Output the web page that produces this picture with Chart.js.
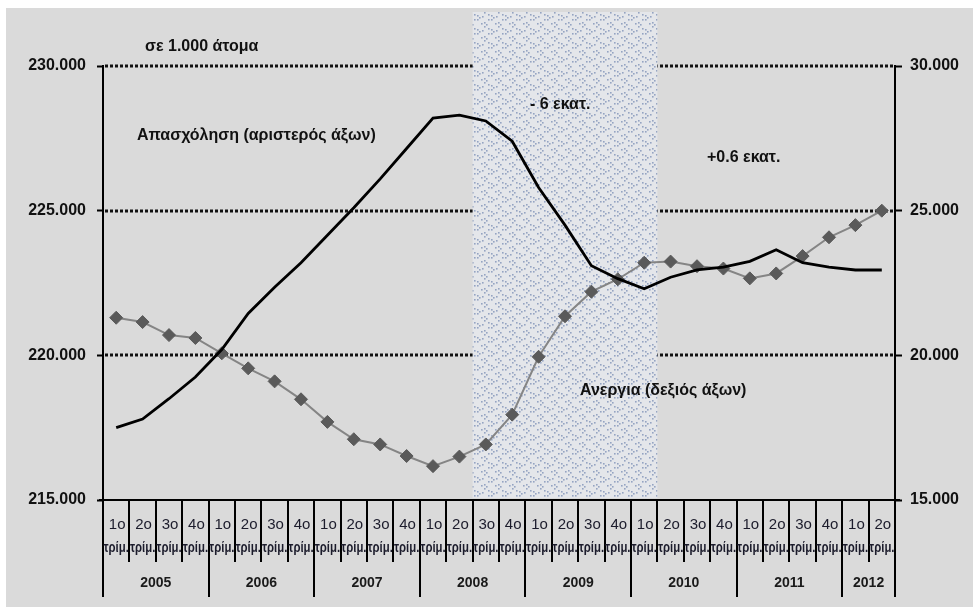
<!DOCTYPE html>
<html>
<head>
<meta charset="utf-8">
<script src="https://cdn.jsdelivr.net/npm/chart.js@4.4.1/dist/chart.umd.min.js"></script>
<style>
  html, body { margin: 0; padding: 0; background: #ffffff; }
  #wrap { width: 973px; height: 607px; position: relative; }
</style>
</head>
<body>
<div id="wrap"><canvas id="c" width="973" height="607"></canvas></div>
<script>
// Quarterly employment (left axis) and unemployment (right axis), in thousands of persons
const yearLabels = ['2005', '2006', '2007', '2008', '2009', '2010', '2011', '2012'];
const quartersPerYear = [4, 4, 4, 4, 4, 4, 4, 2];
const quarterNames = ['1ο', '2ο', '3ο', '4ο'];
const quarterSuffix = 'τρίμ.';

const employment = [
  217500, 217800, 218500, 219250,
  220200, 221450, 222350, 223200,
  224150, 225100, 226100, 227150,
  228200, 228300, 228100, 227400,
  225800, 224500, 223100, 222650,
  222300, 222700, 222950, 223050,
  223250, 223650, 223200, 223050,
  222950, 222950
];
const unemployment = [
  21300, 21150, 20700, 20600,
  20070, 19550, 19100, 18480,
  17700, 17100, 16920, 16520,
  16170, 16500, 16920, 17950,
  19950, 21350, 22200, 22630,
  23200, 23240, 23080, 23000,
  22660, 22830, 23430, 24080,
  24500, 25000
];

const leftTicks = [215000, 220000, 225000, 230000];
const rightTicks = [15000, 20000, 25000, 30000];
// recession band: 2008 3ο τρίμ. through 2010 1ο τρίμ. (category indices)
const bandStart = 14;
const bandEnd = 20;

const annotations = [
  { text: 'σε 1.000 άτομα', x: 145, y: 47 },
  { text: 'Απασχόληση (αριστερός άξων)', x: 137, y: 136 },
  { text: '- 6 εκατ.', x: 530, y: 105 },
  { text: '+0.6 εκατ.', x: 707, y: 158 },
  { text: 'Ανεργια (δεξιός άξων)', x: 580, y: 391 }
];

// category labels built from years and quarters
const categories = [];
yearLabels.forEach((y, yi) => {
  for (let q = 0; q < quartersPerYear[yi]; q++) categories.push(quarterNames[q] + ' ' + quarterSuffix + ' ' + y);
});

const fmt = v => v.toLocaleString('de-DE');
const FONT = '"Liberation Sans", Arial, sans-serif';

// dotted chevron texture for the shaded band
function makePattern(ctx) {
  const t = document.createElement('canvas');
  t.width = 14; t.height = 14;
  const g = t.getContext('2d');
  g.fillStyle = '#e4e6ea';
  g.fillRect(0, 0, 14, 14);
  g.fillStyle = '#95a4c2';
  const dots = [[1,1],[3,3],[1,5],[8,8],[10,10],[8,12],[6,2],[12,5],[5,9],[12,0]];
  dots.forEach(([x, y]) => g.fillRect(x, y, 1.6, 1.6));
  return ctx.createPattern(t, 'repeat');
}

const backdrop = {
  id: 'backdrop',
  beforeDraw(chart) {
    const ctx = chart.ctx;
    ctx.save();
    ctx.fillStyle = '#ffffff';
    ctx.fillRect(0, 0, chart.width, chart.height);
    ctx.fillStyle = '#dadada';
    ctx.fillRect(6, 8, chart.width - 6, chart.height - 8);
    ctx.restore();
  },
  beforeDatasetsDraw(chart) {
    const ctx = chart.ctx;
    const y = chart.scales.y, x = chart.scales.x;
    const area = chart.chartArea;
    ctx.save();
    // dotted horizontal gridlines
    ctx.strokeStyle = '#111';
    ctx.lineWidth = 3;
    ctx.setLineDash([3, 2]);
    leftTicks.slice(1).forEach(v => {
      const py = Math.round(y.getPixelForValue(v));
      ctx.beginPath();
      ctx.moveTo(area.left + 2, py);
      ctx.lineTo(area.right - 1, py);
      ctx.stroke();
    });
    ctx.setLineDash([]);
    // shaded band
    const half = (x.getPixelForValue(1) - x.getPixelForValue(0)) / 2;
    const x0 = x.getPixelForValue(bandStart) - half;
    const x1 = x.getPixelForValue(bandEnd) + half;
    ctx.fillStyle = makePattern(ctx);
    ctx.fillRect(x0, 12, x1 - x0, area.bottom - 14);
    ctx.restore();
  },
  afterDraw(chart) {
    const ctx = chart.ctx;
    const x = chart.scales.x;
    const area = chart.chartArea;
    const w = x.getPixelForValue(1) - x.getPixelForValue(0);
    const base = area.bottom;
    ctx.save();
    ctx.strokeStyle = '#000';
    ctx.lineWidth = 2;
    // category axis line
    ctx.beginPath();
    ctx.moveTo(area.left - 4, base);
    ctx.lineTo(area.right + 5, base);
    ctx.stroke();
    // separators
    const yearBounds = new Set([0]);
    let acc = 0;
    quartersPerYear.forEach(n => { acc += n; yearBounds.add(acc); });
    for (let k = 0; k <= categories.length; k++) {
      const px = Math.round(x.getPixelForValue(k) - w / 2);
      ctx.beginPath();
      ctx.moveTo(px, base);
      ctx.lineTo(px, yearBounds.has(k) ? base + 97 : base + 62);
      ctx.stroke();
    }
    // quarter labels
    ctx.fillStyle = '#1c1c2c';
    ctx.textAlign = 'center';
    ctx.textBaseline = 'middle';
    let idx = 0;
    yearLabels.forEach((yl, yi) => {
      const start = idx;
      for (let q = 0; q < quartersPerYear[yi]; q++) {
        const cx = x.getPixelForValue(idx);
        ctx.font = '15px ' + FONT;
        ctx.fillText(quarterNames[q], cx + 1, base + 25, w - 2);
        ctx.font = 'bold 15px ' + FONT;
        ctx.fillText(quarterSuffix, cx, base + 48, w - 1);
        idx++;
      }
      const cx = (x.getPixelForValue(start) + x.getPixelForValue(idx - 1)) / 2;
      ctx.font = 'bold 14px ' + FONT;
      ctx.fillStyle = '#1a1a1a';
      ctx.fillText(yl, cx, base + 83);
      ctx.fillStyle = '#1c1c2c';
    });
    // text annotations
    ctx.textAlign = 'left';
    ctx.fillStyle = '#111';
    ctx.font = 'bold 16px ' + FONT;
    annotations.forEach(a => ctx.fillText(a.text, a.x, a.y));
    ctx.restore();
  }
};

new Chart(document.getElementById('c'), {
  type: 'line',
  data: {
    labels: categories,
    datasets: [
      {
        label: 'Απασχόληση',
        data: employment,
        yAxisID: 'y',
        borderColor: '#000',
        borderWidth: 2.8,
        pointRadius: 0,
        tension: 0,
        order: 1
      },
      {
        label: 'Ανεργια',
        data: unemployment,
        yAxisID: 'y1',
        borderColor: '#858585',
        borderWidth: 2,
        pointStyle: 'rectRot',
        pointRadius: 6.5,
        pointBackgroundColor: '#5a5a5a',
        pointBorderColor: '#5a5a5a',
        pointBorderWidth: 1,
        tension: 0,
        order: 2
      }
    ]
  },
  options: {
    responsive: false,
    animation: false,
    devicePixelRatio: 1,
    layout: { padding: { top: 66, bottom: 107, left: 0, right: 0 } },
    plugins: { legend: { display: false }, tooltip: { enabled: false } },
    scales: {
      x: { display: false, offset: true },
      y: {
        position: 'left',
        min: 215000, max: 230000,
        afterFit(s) { s.width = 103; },
        afterBuildTicks(s) { s.ticks = leftTicks.map(v => ({ value: v })); },
        ticks: {
          callback: v => fmt(v),
          color: '#111',
          padding: 11,
          font: { family: FONT, size: 16, weight: 'bold' }
        },
        grid: { drawOnChartArea: false, drawTicks: true, tickLength: 6, tickColor: '#000', tickWidth: 2 },
        border: { display: true, color: '#000', width: 2 }
      },
      y1: {
        position: 'right',
        min: 15000, max: 30000,
        afterFit(s) { s.width = 78; },
        afterBuildTicks(s) { s.ticks = rightTicks.map(v => ({ value: v })); },
        ticks: {
          callback: v => fmt(v),
          color: '#111',
          padding: 8,
          font: { family: FONT, size: 16, weight: 'bold' }
        },
        grid: { drawOnChartArea: false, drawTicks: true, tickLength: 7, tickColor: '#000', tickWidth: 2 },
        border: { display: true, color: '#000', width: 2 }
      }
    }
  },
  plugins: [backdrop]
});
</script>
</body>
</html>
